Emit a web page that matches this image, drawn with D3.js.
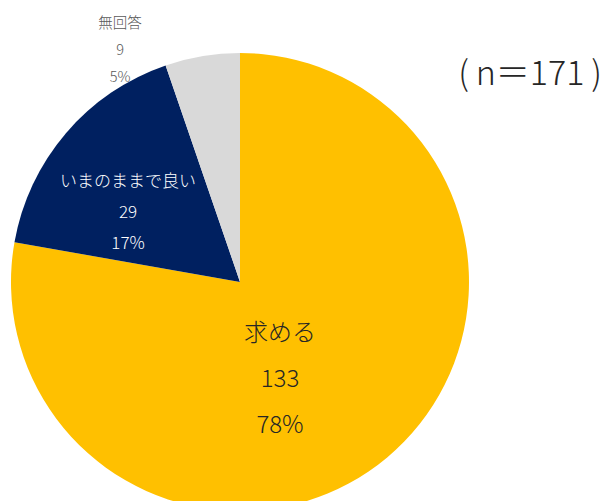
<!DOCTYPE html>
<html><head><meta charset="utf-8">
<script src="https://cdn.jsdelivr.net/npm/d3@7"></script>
<style>
html,body{margin:0;padding:0;background:#fff;overflow:hidden;}
text{font-family:"Noto Sans CJK JP","Noto Sans",sans-serif;}
</style></head>
<body>
<svg id="chart" width="610" height="501"></svg>
<script>
// Survey answers, in clockwise order from 12 o'clock
const categories = ["求める", "いまのままで良い", "無回答"];
const counts = [133, 29, 9];
const percents = ["78%", "17%", "5%"];
const colors = ["#FFC000", "#002060", "#D9D9D9"];
const sampleLabel = "(\u2009n＝171\u2009)";

const svg = d3.select("#chart");
const cx = 240, cy = 282, r = 229;

const pie = d3.pie().sort(null).value(d => d.count);
const data = categories.map((c, i) => ({cat: c, count: counts[i], pct: percents[i], color: colors[i]}));
const arcs = pie(data);
const arc = d3.arc().innerRadius(0).outerRadius(r);

const g = svg.append("g").attr("transform", `translate(${cx},${cy})`);
g.selectAll("path").data(arcs).join("path")
  .attr("d", arc).attr("fill", d => d.data.color);

// label block placement (middle line offset from the pie centre) and styling per slice
const labelStyle = [
  {dx: 40, dy: 94, size: 24, fill: "#262626", gap: 46, weight: 300},
  {dx: -112, dy: -72, size: 17, fill: "#ffffff", gap: 31, weight: 300},
  {dx: -120, dy: -234, size: 14.5, fill: "#595959", gap: 27, weight: 300}
];
arcs.forEach((a, i) => {
  const s = labelStyle[i];
  const lines = [a.data.cat, String(a.data.count), a.data.pct];
  lines.forEach((t, k) => {
    g.append("text")
      .attr("x", s.dx).attr("y", s.dy + (k - 1) * s.gap)
      .attr("text-anchor", "middle").attr("dominant-baseline", "central")
      .attr("font-size", s.size).attr("font-weight", s.weight).attr("fill", s.fill)
      .text(t);
  });
});

svg.append("text")
  .attr("x", 530).attr("y", 70)
  .attr("text-anchor", "middle").attr("dominant-baseline", "central")
  .attr("font-size", 34).attr("font-weight", 300).attr("fill", "#262626")
  .text(sampleLabel);
</script>
</body></html>
